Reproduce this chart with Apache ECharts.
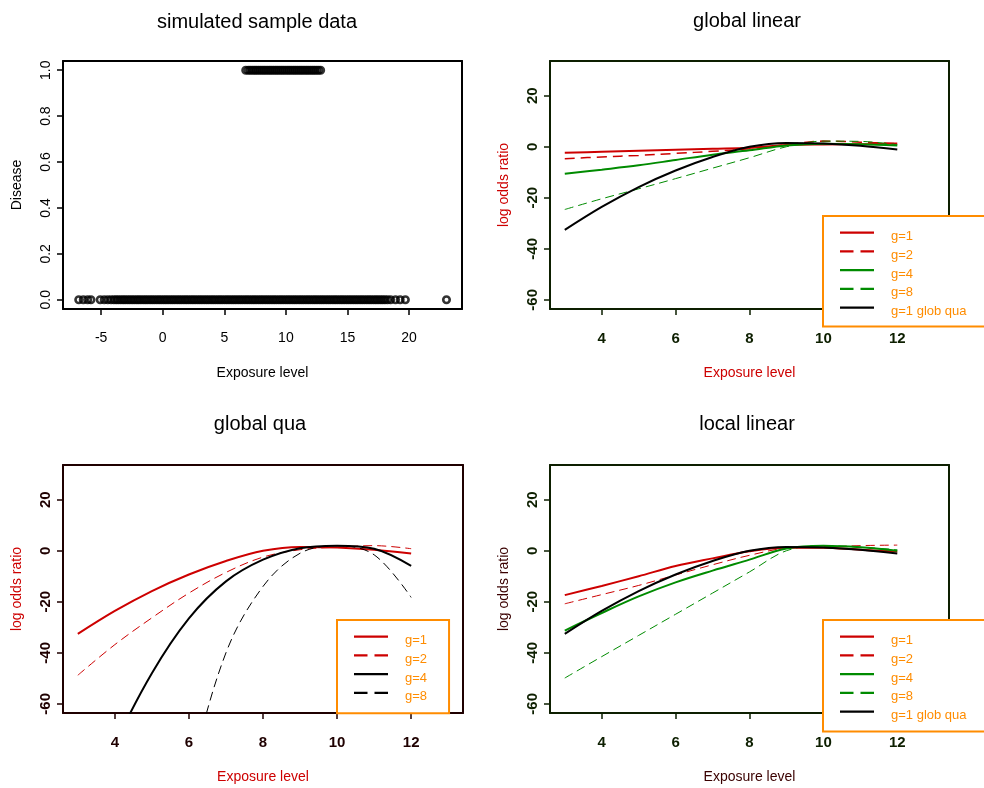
<!DOCTYPE html>
<html><head><meta charset="utf-8">
<script src="https://cdn.jsdelivr.net/npm/echarts@6/dist/echarts.min.js"></script>
<style>html,body{margin:0;padding:0;background:#fff}#c{width:984px;height:788px}</style>
</head><body><div id="c"></div>
<script>
// ---- panel 1: simulated sample data ----
const disease0X = [-6.82,-6.45,-6.1,-5.83,-5.08,-4.75,-4.46,-4.2,-3.97,-3.78,-3.6,-3.41,-3.22,-3.05,-2.86,-2.68,-2.49,-2.31,-2.12,-1.95,-1.77,-1.58,-1.4,-1.22,-1.03,-0.85,-0.67,-0.48,-0.3,-0.12,0.07,0.25,0.43,0.62,0.8,0.98,1.17,1.35,1.53,1.72,1.9,2.08,2.27,2.45,2.63,2.82,3.0,3.18,3.37,3.55,3.73,3.92,4.1,4.28,4.47,4.65,4.83,5.02,5.2,5.38,5.57,5.75,5.93,6.12,6.3,6.48,6.67,6.85,7.03,7.22,7.4,7.58,7.77,7.95,8.13,8.32,8.5,8.68,8.87,9.05,9.23,9.42,9.6,9.78,9.97,10.15,10.33,10.52,10.7,10.88,11.07,11.25,11.43,11.62,11.8,11.98,12.17,12.35,12.53,12.72,12.9,13.08,13.27,13.45,13.63,13.82,14.0,14.18,14.37,14.55,14.73,14.92,15.1,15.28,15.47,15.65,15.83,16.02,16.2,16.38,16.57,16.75,16.93,17.12,17.3,17.48,17.67,17.85,18.04,18.25,18.5,18.9,19.28,19.7,23.04];
const disease1X = [6.74,6.95,7.12,7.3,7.47,7.63,7.8,7.97,8.14,8.3,8.47,8.64,8.8,8.97,9.14,9.3,9.47,9.64,9.8,9.97,10.14,10.3,10.47,10.64,10.8,10.97,11.14,11.3,11.47,11.64,11.8,11.97,12.14,12.3,12.47,12.64,12.82];
const xTicks1 = [-5, 0, 5, 10, 15, 20];
const yTicks1 = [0, 0.2, 0.4, 0.6, 0.8, 1.0];

// ---- log odds ratio panels ----
const exposure = [3, 4, 5, 6, 7, 8, 9, 10, 11, 12];
const xTicks = [4, 6, 8, 10, 12];
const yTicks = [-60, -40, -20, 0, 20];
const globQua = [-32.6, -23.6, -15.8, -9.3, -4.0, 0.0, 1.5, 1.3, 0.4, -1.1];
// global linear
const glinG1 = [-2.4, -2.0, -1.6, -1.2, -0.8, -0.4, 0.7, 0.9, 1.0, 1.3];
const glinG2 = [-4.7, -4.0, -3.4, -2.6, -1.8, -0.8, 0.8, 2.2, 1.8, 1.2];
const glinG4 = [-10.6, -9.0, -7.3, -5.2, -3.1, -1.4, 0.5, 1.2, 1.0, 0.5];
const glinG8 = [-24.6, -20.4, -16.5, -12.5, -8.4, -4.3, 0.0, 2.2, 2.1, 0.8];
// global qua
const gquaG2 = [-48.8, -36.8, -26.3, -16.6, -8.5, -2.5, 0.4, 1.4, 2.0, 0.8];
const gquaG4 = [-110, -76, -48, -26.5, -12.0, -3.5, 1.0, 2.0, 0.8, -5.9];
const gquaG8 = [-300, -220, -150, -90, -40, -14, -1.0, 2.0, -1.6, -18.3];
// local linear
const llinG1 = [-17.4, -13.8, -10.0, -6.0, -3.0, -0.2, 1.2, 1.2, 0.4, -0.3];
const llinG2 = [-20.8, -17.2, -13.6, -9.5, -5.5, -1.8, 1.0, 1.4, 2.0, 2.2];
const llinG4 = [-31.3, -24.4, -17.9, -12.4, -7.8, -3.5, 0.9, 2.0, 1.4, 0.0];
const llinG8 = [-49.9, -41.5, -33.2, -24.9, -16.6, -8.3, 0.0, 2.0, 1.4, 0.4];

const titles = ['simulated sample data', 'global linear', 'global qua', 'local linear'];

const RED = '#CD0000', GREEN = '#008B00', BLACK = '#000000', ORANGE = '#FF8C00';
const FONT = '"Liberation Sans", Arial, Helvetica, sans-serif';

const grids = [
  {left: 63, top: 61, width: 399, height: 248},
  {left: 550, top: 61, width: 399, height: 248},
  {left: 63, top: 465, width: 400, height: 248},
  {left: 550, top: 465, width: 399, height: 248}
];
const panelStyle = [
  {axis: '#000000', tick: '#000000', bold: 'normal', size: 14, xname: '#000000', yname: '#000000', yLabel: 'Disease'},
  {axis: '#0d1f00', tick: '#0d1f00', bold: 'bold', size: 15, xname: RED, yname: RED, yLabel: 'log odds ratio'},
  {axis: '#1f0000', tick: '#1f0000', bold: 'bold', size: 15, xname: RED, yname: RED, yLabel: 'log odds ratio'},
  {axis: '#0d1f00', tick: '#0d1f00', bold: 'bold', size: 15, xname: '#3a0000', yname: '#3a0000', yLabel: 'log odds ratio'}
];
const titlePos = [[257, 22], [747, 21], [260, 424], [747, 424]];

const xAxes = [], yAxes = [];
grids.forEach((g, i) => {
  const s = panelStyle[i];
  const isP1 = i === 0;
  xAxes.push({
    type: 'value', gridIndex: i,
    min: isP1 ? -8.1 : 2.6, max: isP1 ? 24.3 : 13.4,
    axisLine: {show: true, onZero: false, lineStyle: {color: s.axis, width: 2}},
    axisTick: {show: true, inside: false, length: 6, customValues: isP1 ? xTicks1 : xTicks, lineStyle: {color: s.axis, width: 1.5}},
    axisLabel: {customValues: isP1 ? xTicks1 : xTicks, margin: 22, color: s.tick, fontSize: s.size, fontWeight: s.bold, fontFamily: FONT},
    splitLine: {show: false},
    name: 'Exposure level', nameLocation: 'middle', nameGap: 57,
    nameTextStyle: {color: s.xname, fontSize: 14, fontFamily: FONT}
  });
  yAxes.push({
    type: 'value', gridIndex: i,
    min: isP1 ? -0.04 : -63.6, max: isP1 ? 1.04 : 33.6,
    axisLine: {show: true, onZero: false, lineStyle: {color: s.axis, width: 2}},
    axisTick: {show: true, inside: false, length: 6, customValues: isP1 ? yTicks1 : yTicks, lineStyle: {color: s.axis, width: 1.5}},
    axisLabel: {customValues: isP1 ? yTicks1 : yTicks, rotate: 90, margin: 10, color: s.tick, fontSize: s.size, fontWeight: s.bold, fontFamily: FONT,
      formatter: v => isP1 ? Number(v).toFixed(1) : String(v)},
    splitLine: {show: false},
    name: s.yLabel, nameLocation: 'middle', nameGap: 39,
    nameTextStyle: {color: s.yname, fontSize: 14, fontFamily: FONT}
  });
});

const pairs = (xs, ys) => xs.map((x, i) => [x, ys[i]]);
function line(name, idx, ys, color, width, dash) {
  return {
    type: 'line', name: name, xAxisIndex: idx, yAxisIndex: idx,
    data: pairs(exposure, ys), smooth: 0.35, symbol: 'none', showSymbol: false,
    clip: true, silent: true, animation: false,
    lineStyle: {color: color, width: width, type: dash || 'solid'},
    itemStyle: {color: color}
  };
}

const ring = {color: 'rgba(0,0,0,0)', borderColor: '#000', borderWidth: 2.6};
const series = [
  {type: 'scatter', xAxisIndex: 0, yAxisIndex: 0, data: disease0X.map(x => [x, 0]), symbol: 'circle', symbolSize: 6.5,
   itemStyle: ring, silent: true, animation: false},
  {type: 'scatter', xAxisIndex: 0, yAxisIndex: 0, data: disease1X.map(x => [x, 1]), symbol: 'circle', symbolSize: 6.5,
   itemStyle: ring, silent: true, animation: false},
  // global linear
  line('g=1|gl', 1, glinG1, RED, 2),
  line('g=2|gl', 1, glinG2, RED, 1.5, [10, 6]),
  line('g=4|gl', 1, glinG4, GREEN, 2),
  line('g=8|gl', 1, glinG8, GREEN, 1, [9, 5]),
  line('g=1 glob qua|gl', 1, globQua, BLACK, 2),
  // global qua
  line('g=1|gq', 2, globQua, RED, 2),
  line('g=2|gq', 2, gquaG2, RED, 1, [9, 5]),
  line('g=4|gq', 2, gquaG4, BLACK, 2),
  line('g=8|gq', 2, gquaG8, BLACK, 1, [9, 5]),
  // local linear
  line('g=1|ll', 3, llinG1, RED, 2),
  line('g=2|ll', 3, llinG2, RED, 1, [9, 5]),
  line('g=4|ll', 3, llinG4, GREEN, 2),
  line('g=8|ll', 3, llinG8, GREEN, 1, [9, 5]),
  line('g=1 glob qua|ll', 3, globQua, BLACK, 2)
];

// legend key shapes (34 x 14 box; stroke drawn near the top so the label sits lower, as in R)
const SOLID_KEY = 'path://M0,0h0.01v0.01h-0.01z M0,2h34v2.2h-34z M0,13.99h0.01v0.01h-0.01z';
const DASH_KEY = 'path://M0,0h0.01v0.01h-0.01z M0,2h13.5v2.2h-13.5z M20.5,2h13.5v2.2h-13.5z M0,13.99h0.01v0.01h-0.01z';
function legend(names, left, top, pad) {
  return {
    data: names.map(n => ({name: n, icon: /g=2|g=8/.test(n) ? DASH_KEY : SOLID_KEY})),
    left: left, top: top, orient: 'vertical',
    itemWidth: 34, itemHeight: 14, itemGap: 4.75, symbolKeepAspect: false,
    padding: pad,
    borderColor: ORANGE, borderWidth: 2, backgroundColor: '#ffffff', borderRadius: 0,
    selectedMode: false,
    itemStyle: {borderWidth: 0},
    formatter: n => n.split('|')[0],
    textStyle: {color: ORANGE, fontSize: 13, fontFamily: FONT, padding: [0, 0, 0, 12]}
  };
}

const option = {
  animation: false,
  backgroundColor: '#ffffff',
  grid: grids.map(g => Object.assign({show: true, borderColor: 'transparent', borderWidth: 0, containLabel: false}, g)),
  xAxis: xAxes, yAxis: yAxes,
  series: series,
  legend: [
    legend(['g=1|gl', 'g=2|gl', 'g=4|gl', 'g=8|gl', 'g=1 glob qua|gl'], 823, 216, [13.5, 20, 8, 17]),
    legend(['g=1|gq', 'g=2|gq', 'g=4|gq', 'g=8|gq'], 337, 620, [13.5, 22, 9.5, 17]),
    legend(['g=1|ll', 'g=2|ll', 'g=4|ll', 'g=8|ll', 'g=1 glob qua|ll'], 823, 620, [13.5, 20, 9, 17])
  ],
  graphic: titles.map((t, i) => ({
    type: 'text', x: titlePos[i][0], y: titlePos[i][1], silent: true,
    style: {text: t, fill: '#000', font: '20px ' + FONT, textAlign: 'center', textVerticalAlign: 'middle'}
  }))
};

// top and right sides of each plot box
option.xAxis = option.xAxis.concat(grids.map((g, i) => ({
  type: 'value', gridIndex: i, position: 'top', min: 0, max: 1,
  axisLine: {show: true, onZero: false, lineStyle: {color: panelStyle[i].axis, width: 2}},
  axisTick: {show: false}, axisLabel: {show: false}, splitLine: {show: false}
})));
option.yAxis = option.yAxis.concat(grids.map((g, i) => ({
  type: 'value', gridIndex: i, position: 'right', min: 0, max: 1,
  axisLine: {show: true, onZero: false, lineStyle: {color: panelStyle[i].axis, width: 2}},
  axisTick: {show: false}, axisLabel: {show: false}, splitLine: {show: false}
})));

const chart = echarts.init(document.getElementById('c'), null, {renderer: 'canvas'});
chart.setOption(option);
</script>
</body></html>
